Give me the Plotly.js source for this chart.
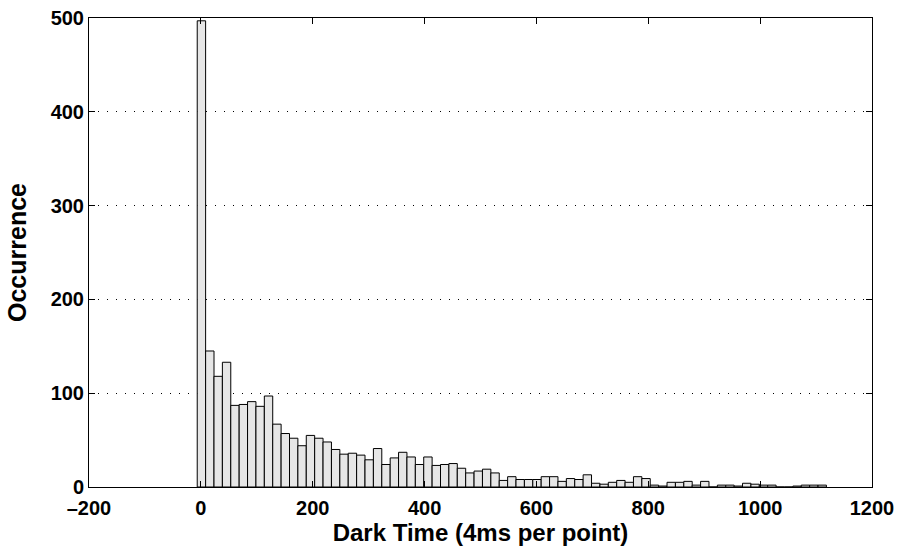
<!DOCTYPE html>
<html>
<head>
<meta charset="utf-8">
<script src="https://cdn.plot.ly/plotly-3.0.1.min.js"></script>
<style>html,body{margin:0;padding:0;background:#fff;}#chart{width:900px;height:548px;}</style>
</head>
<body>
<div id="chart"></div>
<script>
// Histogram bin centres (Dark Time, 4 ms per point)
var binCenters = [1, 16, 31, 46, 61, 76, 91, 106, 121, 136,
  151, 166, 181, 196, 211, 226, 241, 256, 271, 286,
  301, 316, 331, 346, 361, 376, 391, 406, 421, 436,
  451, 466, 481, 496, 511, 526, 541, 556, 571, 586,
  601, 616, 631, 646, 661, 676, 691, 706, 721, 736,
  751, 766, 781, 796, 811, 826, 841, 856, 871, 886,
  901, 916, 931, 946, 961, 976, 991, 1006, 1021, 1036,
  1051, 1066, 1081, 1096, 1111];
// Occurrence counts per bin
var counts = [497, 145, 118, 133, 87, 88, 91, 86, 97, 67,
  57, 52, 44, 55, 52, 48, 40, 35, 36, 34,
  29, 41, 24, 31, 37, 32, 24, 32, 23, 24,
  25, 20, 15, 17, 19, 15, 7, 11, 8, 8,
  8, 11, 11, 6, 9, 8, 13, 4, 3, 5,
  7, 5, 11, 9, 2, 1, 5, 5, 6, 2,
  6, 0, 2, 2, 1, 4, 3, 2, 2, 0,
  0, 1, 2, 2, 2];
var xTicks = [-200, 0, 200, 400, 600, 800, 1000, 1200];
var yTicks = [0, 100, 200, 300, 400, 500];
var xTitle = 'Dark Time (4ms per point)';
var yTitle = 'Occurrence';

var fontFam = 'Liberation Sans, Arial, Helvetica, sans-serif';

var trace = {
  type: 'bar',
  x: binCenters,
  y: counts,
  width: 15,
  marker: {color: '#e6e6e6', line: {color: '#000000', width: 1}},
  hoverinfo: 'x+y'
};

var axisCommon = {
  showline: true,
  linecolor: '#000',
  linewidth: 1,
  mirror: 'ticks',
  ticks: 'inside',
  ticklen: 6,
  tickwidth: 1,
  tickcolor: '#000',
  zeroline: false,
  tickfont: {family: fontFam, size: 20, color: '#000', weight: 'bold'}
};

var layout = {
  width: 900,
  height: 548,
  margin: {l: 89, r: 28, t: 18, b: 61},
  paper_bgcolor: '#fff',
  plot_bgcolor: '#fff',
  showlegend: false,
  bargap: 0,
  font: {family: fontFam, color: '#000'},
  xaxis: Object.assign({}, axisCommon, {
    range: [-200, 1200],
    tickvals: xTicks,
    ticktext: xTicks.map(function(v){ return v < 0 ? '\u2013' + Math.abs(v) : String(v); }),
    ticklabelstandoff: 3,
    showgrid: false,
    title: {text: xTitle, font: {family: fontFam, size: 24, color: '#000', weight: 'bold'}, standoff: 0}
  }),
  yaxis: Object.assign({}, axisCommon, {
    range: [0, 500],
    tickvals: yTicks,
    showgrid: true,
    gridcolor: '#000',
    gridwidth: 1,
    griddash: '1px,8px',
    title: {text: yTitle, font: {family: fontFam, size: 25, color: '#000', weight: 'bold'}, standoff: 16}
  })
};

Plotly.newPlot('chart', [trace], layout, {displayModeBar: false, staticPlot: true});
</script>
</body>
</html>
